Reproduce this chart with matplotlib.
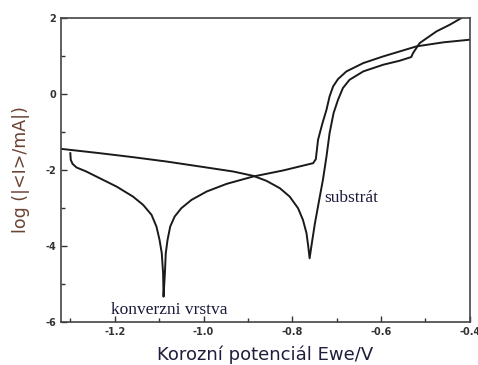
import matplotlib.pyplot as plt
from matplotlib.ticker import MultipleLocator

# substrat (Ecorr ~ -0.76 V)
sub_x = [-1.322, -1.234, -1.159, -1.084, -1.008, -0.933, -0.888, -0.858, -0.828, -0.806,
         -0.787, -0.776, -0.768, -0.764, -0.761, -0.756, -0.749, -0.738, -0.731, -0.723,
         -0.716, -0.707, -0.697, -0.686, -0.671, -0.640, -0.595, -0.558, -0.532, -0.528,
         -0.513, -0.475, -0.445, -0.419]
sub_y = [-1.442, -1.557, -1.662, -1.776, -1.908, -2.040, -2.154, -2.286, -2.479, -2.698,
         -3.006, -3.313, -3.664, -4.016, -4.323, -3.928, -3.401, -2.698, -2.259, -1.645,
         -1.030, -0.503, -0.152, 0.156, 0.375, 0.595, 0.771, 0.876, 0.973, 1.078,
         1.341, 1.649, 1.824, 2.0]

# konverzni vrstva (Ecorr ~ -1.09 V)
konv_x = [-1.300, -1.299, -1.295, -1.286, -1.264, -1.234, -1.196, -1.159, -1.136, -1.117,
          -1.106, -1.099, -1.094, -1.091, -1.090, -1.087, -1.085, -1.081, -1.075, -1.065,
          -1.050, -1.027, -0.993, -0.948, -0.888, -0.821, -0.753, -0.747, -0.742, -0.732,
          -0.723, -0.716, -0.708, -0.697, -0.678, -0.640, -0.595, -0.520, -0.460, -0.400]
konv_y = [-1.557, -1.732, -1.838, -1.934, -2.040, -2.215, -2.435, -2.698, -2.918, -3.181,
          -3.489, -3.840, -4.191, -4.718, -5.333, -4.718, -4.191, -3.840, -3.489, -3.225,
          -3.006, -2.786, -2.567, -2.365, -2.171, -2.013, -1.820, -1.715, -1.205, -0.766,
          -0.415, -0.064, 0.200, 0.393, 0.595, 0.814, 0.990, 1.254, 1.359, 1.429]

fig = plt.figure(figsize=(4.78, 3.65), dpi=100)
ax = fig.add_axes([0.1276, 0.1178, 0.8554, 0.8329])

ax.plot(sub_x, sub_y, color='#1a1a1a', lw=1.4)
ax.plot(konv_x, konv_y, color='#1a1a1a', lw=1.4)

ax.set_xlim(-1.321, -0.4)
ax.set_ylim(-6, 2)
ax.xaxis.set_minor_locator(MultipleLocator(0.1))
ax.yaxis.set_minor_locator(MultipleLocator(1))
ax.set_xticks([-1.2, -1.0, -0.8, -0.6, -0.4])
ax.set_xticklabels(['-1.2', '-1.0', '-0.8', '-0.6', '-0.4'], fontweight='bold')
ax.set_yticks([2, 0, -2, -4, -6])
ax.set_yticklabels(['2', '0', '-2', '-4', '-6'], fontweight='bold')
ax.tick_params(which='both', direction='in', top=False, right=False,
               labelsize=7, colors='#333333', width=1.0)
ax.tick_params(which='major', length=4)
ax.tick_params(which='minor', length=3)

for s in ax.spines.values():
    s.set_color('#444444')
    s.set_linewidth(1.2)

ax.set_xlabel('Korozní potenciál Ewe/V', fontsize=13, color='#1e1e3c', labelpad=6)
ax.set_ylabel('log (|<I>/mA|)', fontsize=12.5, color='#6b4232', labelpad=11)

ax.text(-0.727, -2.74, 'substrát', family='Liberation Serif', fontsize=12.5,
        color='#1a1a3a', ha='left', va='center')
ax.text(-1.2075, -5.684, 'konverzni vrstva', family='Liberation Serif', fontsize=12.5,
        color='#1a1a3a', ha='left', va='center')

fig.savefig('out.png', dpi=100)
